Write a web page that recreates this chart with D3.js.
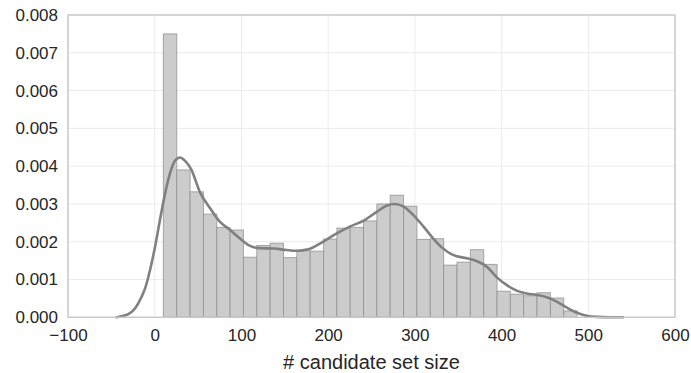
<!DOCTYPE html>
<html>
<head>
<meta charset="utf-8">
<script src="https://cdn.jsdelivr.net/npm/d3@7"></script>
<style>
  html, body { margin: 0; padding: 0; background: #ffffff; }
  svg { display: block; }
</style>
</head>
<body>
<div id="chart"></div>
<script>
// ---- data ----
const binEdges = [10.0, 25.4, 40.8, 56.2, 71.6, 86.9, 102.3, 117.7, 133.1, 148.5, 163.9,
  179.3, 194.7, 210.1, 225.5, 240.8, 256.2, 271.6, 287.0, 302.4, 317.8,
  333.2, 348.6, 364.0, 379.4, 394.8, 410.1, 425.5, 440.9, 456.3, 471.7, 487.1];
const binDensity = [0.00750, 0.00390, 0.00332, 0.00273, 0.00238, 0.00231, 0.00159, 0.00190,
  0.00196, 0.00158, 0.00176, 0.00175, 0.00207, 0.00236, 0.00238, 0.00255,
  0.00300, 0.00323, 0.00294, 0.00206, 0.00208, 0.00138, 0.00146, 0.00179,
  0.00140, 0.00069, 0.00061, 0.00057, 0.00065, 0.00051, 0.00017];
const kdeX = [-45, -42, -36, -30, -24, -19, -15, -11, -5.4, 0.4, 6, 12, 17.6, 23.4, 29, 35, 42,
  52, 64, 75, 87, 98, 110, 121, 137, 152, 164, 177, 192, 210, 225, 241, 256, 268, 277,
  287, 298, 310, 321, 331, 344, 360, 371, 383, 394, 406, 418, 429, 441, 452, 464, 475,
  487, 498, 510, 525, 541];
const kdeY = [0, 0.00001, 0.00004, 0.00009, 0.0002, 0.00037, 0.00055, 0.00077, 0.00125, 0.00187,
  0.00257, 0.00328, 0.00381, 0.00414, 0.00423, 0.00414, 0.00392, 0.00332, 0.00288, 0.00253,
  0.00231, 0.00209, 0.00189, 0.00183, 0.00182, 0.00178, 0.00176, 0.00180, 0.00197, 0.00222,
  0.00240, 0.00256, 0.00279, 0.00296, 0.00300, 0.00293, 0.00271, 0.00240, 0.00209, 0.00185,
  0.00165, 0.00156, 0.00149, 0.00134, 0.00107, 0.00085, 0.00070, 0.00063, 0.00059, 0.00053,
  0.00041, 0.00026, 0.00012, 0.00004, 0.00001, 0.000002, 0];
const xTicks = [-100, 0, 100, 200, 300, 400, 500, 600];
const yTicks = [0.000, 0.001, 0.002, 0.003, 0.004, 0.005, 0.006, 0.007, 0.008];
const xLabel = "# candidate set size";

// ---- layout ----
const W = 691, H = 373;
const L = 68, R = 675, T = 15, B = 317.3;
const FONT = "'Liberation Sans', Arial, Helvetica, sans-serif";

const svg = d3.select("#chart").append("svg").attr("width", W).attr("height", H);

const x = d3.scaleLinear().domain([-100, 600]).range([L, R]);
const y = d3.scaleLinear().domain([0, 0.008]).range([B, T]);

// grid
const grid = svg.append("g");
grid.selectAll("line.vx").data(xTicks).enter().append("line")
  .attr("x1", d => x(d)).attr("x2", d => x(d)).attr("y1", T).attr("y2", B)
  .attr("stroke", "#ebebeb").attr("stroke-width", 1);
grid.selectAll("line.hy").data(yTicks).enter().append("line")
  .attr("x1", L).attr("x2", R).attr("y1", d => y(d)).attr("y2", d => y(d))
  .attr("stroke", "#ebebeb").attr("stroke-width", 1);

// bars
const bins = binDensity.map((v, i) => ({ x0: binEdges[i], x1: binEdges[i + 1], v }));
svg.append("g").selectAll("rect").data(bins).enter().append("rect")
  .attr("x", d => x(d.x0))
  .attr("y", d => y(d.v))
  .attr("width", d => x(d.x1) - x(d.x0))
  .attr("height", d => B - y(d.v))
  .attr("fill", "#cccccc")
  .attr("stroke", "#8f8f8f")
  .attr("stroke-opacity", 0.75)
  .attr("stroke-width", 1);

// kde line
const kde = kdeX.map((v, i) => [v, kdeY[i]]);
svg.append("path")
  .datum(kde)
  .attr("d", d3.line().x(d => x(d[0])).y(d => y(d[1])).curve(d3.curveMonotoneX))
  .attr("fill", "none")
  .attr("stroke", "#808080")
  .attr("stroke-width", 2.6)
  .attr("stroke-linejoin", "round");

// spines
svg.append("rect")
  .attr("x", L).attr("y", T).attr("width", R - L).attr("height", B - T)
  .attr("fill", "none").attr("stroke", "#c8c8c8").attr("stroke-width", 1.4);

// axes
const xAxis = svg.append("g").attr("transform", `translate(0,${B})`)
  .call(d3.axisBottom(x).tickValues(xTicks).tickSize(0).tickPadding(12).tickFormat(d3.format("d")));
xAxis.select(".domain").remove();
xAxis.selectAll("text").attr("font-size", 17).attr("font-family", FONT).attr("fill", "#262626");

const yAxis = svg.append("g").attr("transform", `translate(${L},0)`)
  .call(d3.axisLeft(y).tickValues(yTicks).tickSize(0).tickPadding(10).tickFormat(d3.format(".3f")));
yAxis.select(".domain").remove();
yAxis.selectAll("text").attr("font-size", 17).attr("font-family", FONT).attr("fill", "#262626");

// x label
svg.append("text")
  .attr("x", (L + R) / 2).attr("y", 369)
  .attr("text-anchor", "middle")
  .attr("font-size", 20).attr("font-family", FONT).attr("fill", "#262626")
  .text(xLabel);
</script>
</body>
</html>
